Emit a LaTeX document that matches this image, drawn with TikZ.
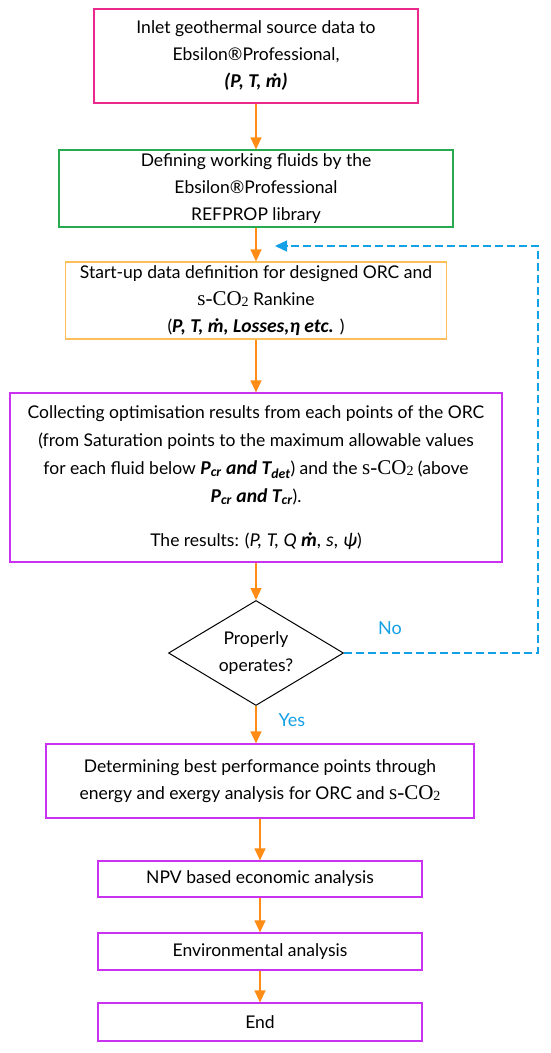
\documentclass[tikz,border=0pt]{standalone}
\usepackage{fontspec}
\setmainfont{Lato}
\newfontfamily\varfont[Scale=1.12]{Carlito}
\newfontfamily\seriffont{Liberation Serif}
\usepackage{xcolor}
\usepackage{tikz}
\usetikzlibrary{shapes.geometric, arrows.meta}

\definecolor{boxpink}{RGB}{236,40,140}
\definecolor{boxgreen}{RGB}{40,170,80}
\definecolor{boxorange}{RGB}{255,190,90}
\definecolor{boxpurple}{RGB}{200,50,240}
\definecolor{flowarrow}{RGB}{255,140,20}
\definecolor{loopblue}{RGB}{20,160,230}

\newcommand{\sco}{{\seriffont\fontsize{21}{21}\selectfont s-CO\raisebox{-0.15ex}{\fontsize{14}{14}\selectfont 2}}}
\newcommand{\vars}[1]{{\varfont\bfseries\itshape #1}}
\newcommand{\mdot}{ṁ}

\begin{document}
\begin{tikzpicture}[
    x=1pt, y=-1pt,
    box/.style={rectangle, draw, line width=1.2pt, align=center, inner sep=0pt,
        font=\fontsize{17.5}{27}\selectfont},
    decision/.style={diamond, draw, line width=1pt, aspect=1.8, align=center, inner sep=0pt,
        minimum width=175pt, minimum height=105pt, font=\fontsize{17.5}{27}\selectfont},
    arrow/.style={-{Triangle[width=11pt,length=12pt,fill=flowarrow]}, draw=flowarrow, line width=1.2pt},
    loopline/.style={-{Triangle[width=11pt,length=12pt,fill=loopblue]}, draw=loopblue, line width=1.3pt,
        dash pattern=on 8pt off 4pt},
    looplabel/.style={text=loopblue, font=\fontsize{18}{18}\selectfont}
]
\useasboundingbox (0,0) rectangle (550,1053);

\node[box, draw=boxpink, minimum width=324pt, minimum height=94pt] (inlet) at (256,56)
    {Inlet geothermal source data to\\ Ebsilon\textregistered Professional,\\ \vars{(P, T, \mdot)}};
\node[box, draw=boxgreen, minimum width=394pt, minimum height=77pt, node distance=132.5pt, below of=inlet] (fluids)
    {Defining working fluids by the\\ Ebsilon\textregistered Professional\\ REFPROP library};
\node[box, draw=boxorange, minimum width=381pt, minimum height=77pt, node distance=112pt, below of=fluids] (startup)
    {Start-up data definition for designed ORC and\\ \sco{} Rankine\\ (\vars{P, T, \mdot, Losses,η etc.} )};
\node[box, draw=boxpurple, minimum width=492pt, minimum height=169pt, node distance=177pt, below of=startup,
    font=\fontsize{17.5}{28}\selectfont] (collect)
    {Collecting optimisation results from each points of the ORC\\
     (from Saturation points to the maximum allowable values\\
     for each fluid below \vars{P\textsubscript{cr} and T\textsubscript{det}}) and the \sco{} (above\\
     \vars{P\textsubscript{cr} and T\textsubscript{cr}}).\\[16pt]
     The results: ({\varfont\itshape P, T, Q \textbf{\mdot}, s, ψ})};
\node[decision, node distance=175.5pt, below of=collect] (check) {Properly\\ operates?};
\node[box, draw=boxpurple, minimum width=428pt, minimum height=74pt, node distance=128pt, below of=check, xshift=4pt] (best)
    {Determining best performance points through\\ energy and exergy analysis for ORC and \sco};
\node[box, draw=boxpurple, minimum width=324pt, minimum height=36pt, node distance=98pt, below of=best] (npv)
    {NPV based economic analysis};
\node[box, draw=boxpurple, minimum width=324pt, minimum height=37pt, node distance=72.5pt, below of=npv] (enviro)
    {Environmental analysis};
\node[box, draw=boxpurple, minimum width=324pt, minimum height=38pt, node distance=70.5pt, below of=enviro] (finish)
    {End};

\node[looplabel] (nolabel) at (390,628) {No};
\node[looplabel] (yeslabel) at (292,720) {Yes};
\coordinate (loopturn) at (538,246);
\coordinate (loopend) at (275,246);

\draw[arrow] (inlet) -- (fluids);
\draw[arrow] (fluids) -- (startup);
\draw[arrow] (startup) -- (collect);
\draw[arrow] (collect) -- (check);
\draw[arrow] (check.south) -- (check.south |- best.north);
\draw[arrow] (best) -- (npv);
\draw[arrow] (npv) -- (enviro);
\draw[arrow] (enviro) -- (finish);
\draw[loopline] (check.east) -| (loopturn) -- (loopend);
\end{tikzpicture}
\end{document}
